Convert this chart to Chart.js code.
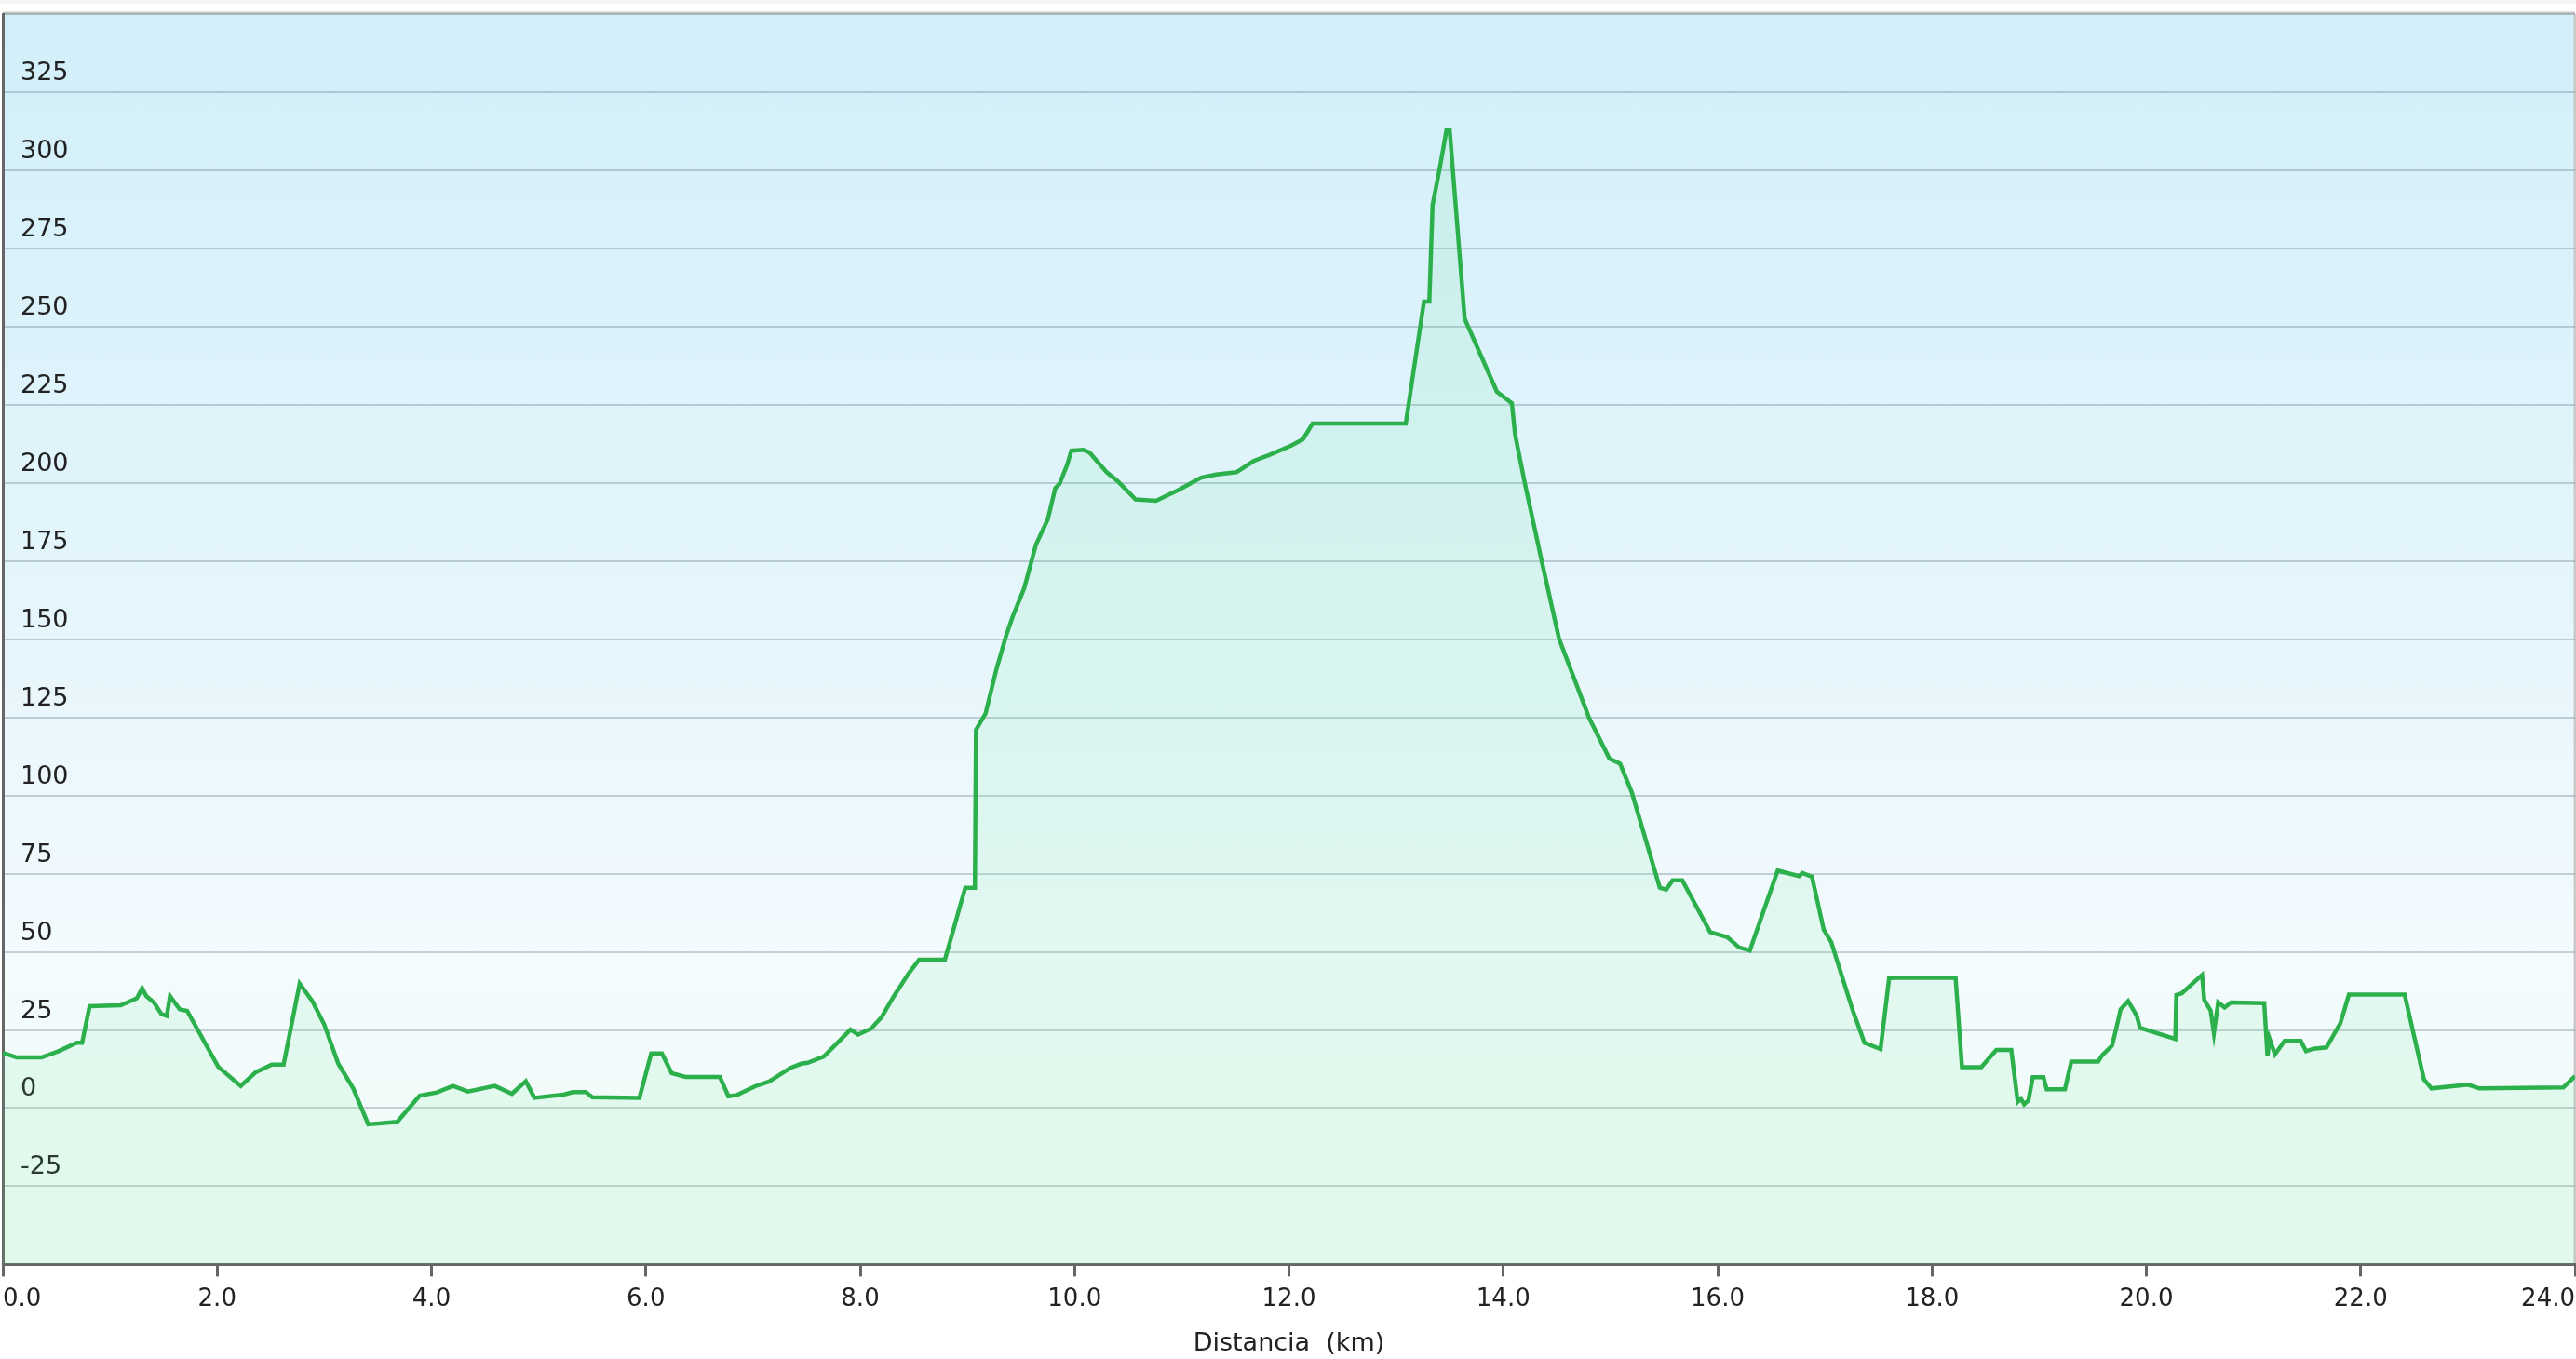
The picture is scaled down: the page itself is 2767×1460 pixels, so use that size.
<!DOCTYPE html>
<html>
<head>
<meta charset="utf-8">
<script src="https://cdn.jsdelivr.net/npm/chart.js@4.4.1/dist/chart.umd.min.js"></script>
<style>
  html, body { margin: 0; padding: 0; background: #ffffff; }
  #wrap { width: 2767px; height: 1460px; position: relative; }
</style>
</head>
<body>
<div id="wrap"><canvas id="profile"></canvas></div>
<script>
// Perfil de elevación: distancia (km) y altitud (m)
const distanceKm = [
  0.00, 0.13, 0.36, 0.52, 0.69, 0.74, 0.81, 1.10, 1.25, 1.30, 1.34, 1.41, 1.48, 1.53, 1.56, 1.65, 1.72,
  2.01, 2.22, 2.36, 2.51, 2.62, 2.77, 2.89, 3.00, 3.13, 3.27, 3.41, 3.68, 3.89, 4.05, 4.20, 4.34,
  4.59, 4.75, 4.88, 4.96, 5.23, 5.32, 5.44, 5.50, 5.94, 6.05, 6.15, 6.24, 6.37, 6.69, 6.77, 6.85,
  7.02, 7.15, 7.35, 7.45, 7.51, 7.66, 7.91, 7.98, 8.10, 8.20, 8.31, 8.45, 8.55, 8.79, 8.98, 9.07,
  9.08, 9.17, 9.27, 9.36, 9.42, 9.53, 9.64, 9.75, 9.82, 9.86, 9.93, 9.97, 10.08, 10.14, 10.30, 10.40,
  10.57, 10.76, 10.98, 11.18, 11.32, 11.51, 11.67, 11.82, 12.02, 12.13, 12.22, 13.09, 13.26, 13.31,
  13.34, 13.41, 13.47, 13.50, 13.64, 13.94, 14.08, 14.11, 14.20, 14.36, 14.52, 14.80, 14.99, 15.09,
  15.20, 15.46, 15.52, 15.58, 15.67, 15.93, 16.09, 16.20, 16.30, 16.56, 16.76, 16.79, 16.88, 16.99,
  17.06, 17.26, 17.37, 17.52, 17.60, 17.64, 18.22, 18.28, 18.46, 18.60, 18.74, 18.80, 18.83, 18.86,
  18.90, 18.94, 19.04, 19.07, 19.24, 19.30, 19.55, 19.59, 19.68, 19.72, 19.76, 19.83, 19.91, 19.94,
  20.27, 20.28, 20.33, 20.52, 20.54, 20.60, 20.63, 20.67, 20.73, 20.79, 21.10, 21.13, 21.15, 21.20,
  21.29, 21.44, 21.49, 21.56, 21.68, 21.81, 21.89, 22.41, 22.59, 22.66, 23.00, 23.11, 23.89, 24.00,
];

const elevationM = [
  17.7, 16.2, 16.2, 18.2, 20.9, 20.9, 32.6, 32.9, 35.1, 38.3, 35.8, 33.8, 30.1, 29.5, 35.8, 31.6, 31.1,
  13.2, 7.1, 11.5, 13.9, 13.9, 39.8, 34.1, 26.7, 14.2, 6.3, -5.2, -4.4, 4.0, 5.0, 7.1, 5.3,
  7.1, 4.6, 8.6, 3.3, 4.3, 5.1, 5.1, 3.5, 3.3, 17.5, 17.5, 11.2, 10.0, 10.0, 3.8, 4.2,
  7.0, 8.5, 12.9, 14.2, 14.5, 16.5, 25.1, 23.5, 25.4, 29.1, 35.6, 43.0, 47.5, 47.5, 70.5, 70.5,
  121, 126.3, 140.3, 151, 157, 166.3, 180.3, 188.3, 198.3, 199.7, 205.7, 210.3, 210.6, 209.7, 203.4, 200.6,
  194.7, 194.3, 197.9, 201.7, 202.7, 203.4, 207, 209, 211.9, 213.9, 219, 219, 258, 258,
  288.8, 301.2, 312.8, 312.8, 252.5, 229.2, 225.5, 215.5, 200.1, 174.8, 150.2, 124.9, 111.8, 110.2,
  100.9, 70.5, 69.9, 72.9, 72.9, 56.3, 54.7, 51.4, 50.4, 76, 74.2, 75.2, 74, 57.1,
  53.1, 31.3, 20.9, 18.9, 41.5, 41.7, 41.7, 13.1, 13.1, 18.6, 18.6, 2.0, 3.0, 1.2,
  2.5, 9.9, 9.9, 6.0, 6.0, 14.9, 14.9, 17, 20, 25.6, 31.6, 34.2, 29.6, 25.7,
  22.1, 36.2, 36.7, 42.6, 34.6, 31.2, 24, 33.8, 32.2, 33.8, 33.6, 16.7, 22.2, 17.2,
  21.5, 21.5, 18.2, 19.0, 19.4, 27.1, 36.3, 36.3, 9.2, 6.3, 7.5, 6.3, 6.6, 10.2,
];

const xTickStep = 2;     // km
const yTickStep = 25;    // m
const yMin = -50;
const yMax = 350;
const xTitle = 'Distancia  (km)';

const FONT = 'DejaVu Sans, Verdana, sans-serif';

// fondo degradado del área de trazado y marco superior/derecho
const plotBackground = {
  id: 'plotBackground',
  beforeDraw(chart) {
    const { ctx, chartArea: a } = chart;
    const g = ctx.createLinearGradient(0, a.top, 0, a.bottom);
    g.addColorStop(0, '#d2eff9');
    g.addColorStop(0.45, '#e4f5fc');
    g.addColorStop(0.75, '#f3fbfe');
    g.addColorStop(1, '#f2fcf6');
    ctx.save();
    ctx.fillStyle = '#f6f6f6';
    ctx.fillRect(0, 0, chart.width, 4);
    ctx.fillStyle = g;
    ctx.fillRect(a.left, a.top, a.right - a.left, a.bottom - a.top);
    ctx.strokeStyle = '#c9c9c9';
    ctx.lineWidth = 3;
    ctx.beginPath();
    ctx.moveTo(a.left, a.top - 1);
    ctx.lineTo(a.right, a.top - 1);
    ctx.moveTo(a.right, a.top);
    ctx.lineTo(a.right, a.bottom);
    ctx.stroke();
    ctx.restore();
  },
};

const points = distanceKm.map((d, i) => ({ x: d, y: elevationM[i] }));

new Chart(document.getElementById('profile'), {
  type: 'line',
  data: {
    datasets: [{
      data: points,
      borderColor: '#2bb04c',
      borderWidth: 4.5,
      backgroundColor: 'rgba(110, 228, 150, 0.12)',
      fill: 'start',
      pointRadius: 0,
      tension: 0,
    }],
  },
  options: {
    responsive: true,
    maintainAspectRatio: false,
    animation: false,
    layout: { padding: { top: 15, left: 3, right: 1, bottom: 0 } },
    plugins: {
      legend: { display: false },
      tooltip: { enabled: false },
    },
    scales: {
      x: {
        type: 'linear',
        min: 0,
        max: 24,
        afterFit: (s) => { s.paddingLeft = 0; s.paddingRight = 0; },
        border: { display: true, color: '#666666', width: 3 },
        grid: { drawOnChartArea: false, drawTicks: true, tickLength: 13, tickColor: '#666666', tickWidth: 3 },
        ticks: {
          stepSize: xTickStep,
          align: 'inner',
          padding: 9,
          color: '#222222',
          font: { family: FONT, size: 26 },
          callback: (v) => Number(v).toFixed(1),
          maxRotation: 0,
        },
        title: {
          display: true,
          text: xTitle,
          color: '#222222',
          font: { family: FONT, size: 27 },
          padding: { top: 7, bottom: 0 },
        },
      },
      y: {
        min: yMin,
        max: yMax,
        afterFit: (s) => { s.width = 0; s.paddingTop = 0; s.paddingBottom = 0; },
        border: { display: true, color: '#666666', width: 3 },
        grid: { color: 'rgba(100, 122, 134, 0.34)', lineWidth: 2, drawTicks: false },
        ticks: {
          stepSize: yTickStep,
          mirror: true,
          padding: 19,
          labelOffset: -20,
          color: '#222222',
          font: { family: FONT, size: 27 },
          callback: (v) => (v === yMin || v === yMax ? '' : String(v)),
        },
      },
    },
  },
  plugins: [plotBackground],
});
</script>
</body>
</html>
